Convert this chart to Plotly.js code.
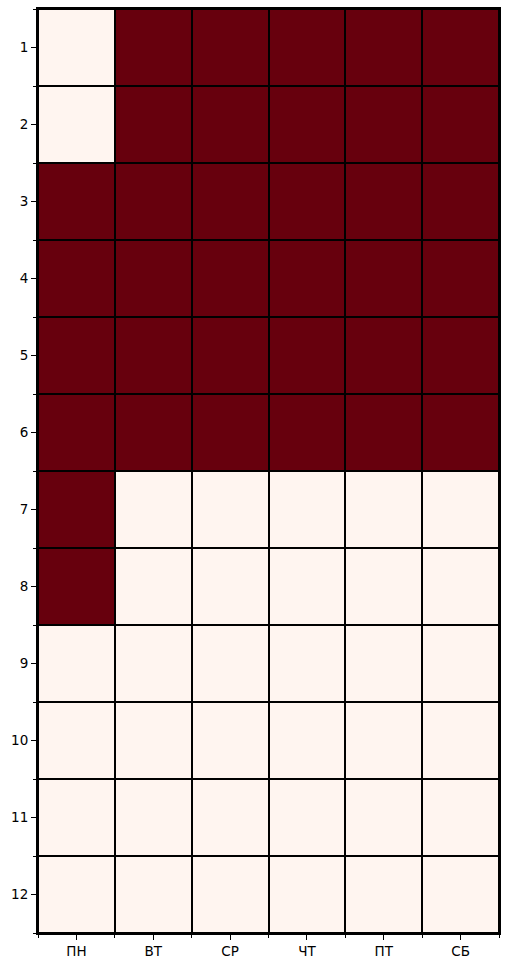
<!DOCTYPE html>
<html><head><meta charset="utf-8">
<script src="https://cdn.plot.ly/plotly-3.0.1.min.js"></script>
<style>html,body{margin:0;padding:0;background:#fff;}#c{width:509px;height:967px;}</style>
</head><body><div id="c"></div>
<script>
const days = ['ПН','ВТ','СР','ЧТ','ПТ','СБ'];
const rows = ['1','2','3','4','5','6','7','8','9','10','11','12'];
const values = [
  [0,1,1,1,1,1],
  [0,1,1,1,1,1],
  [1,1,1,1,1,1],
  [1,1,1,1,1,1],
  [1,1,1,1,1,1],
  [1,1,1,1,1,1],
  [1,0,0,0,0,0],
  [1,0,0,0,0,0],
  [0,0,0,0,0,0],
  [0,0,0,0,0,0],
  [0,0,0,0,0,0],
  [0,0,0,0,0,0]
];
const xIdx = days.map((d,i)=>i);
const yIdx = rows.map((r,i)=>i);
const trace = {
  type:'heatmap', z: values, x: xIdx, y: yIdx,
  colorscale: [[0,'#fff5f0'],[1,'#67000d']], zmin:0, zmax:1,
  showscale:false, xgap:2, ygap:2, hoverinfo:'skip'
};
const font = {family:'DejaVu Sans', size:13.5, color:'#000'};
const layout = {
  width:509, height:967,
  margin:{l:38, r:10, t:9, b:34, pad:0},
  paper_bgcolor:'#fff', plot_bgcolor:'#000',
  font: font,
  xaxis:{range:[-0.5,5.5], tickvals:xIdx, ticktext:days, ticks:'outside', ticklen:5, tickwidth:1, tickcolor:'#000',
    showgrid:false, zeroline:false, showline:true, linecolor:'#000', linewidth:2, mirror:true,
    minor:{tick0:0.5, dtick:1, ticks:'outside', ticklen:3, tickwidth:1, tickcolor:'#000', showgrid:false}, tickfont:font},
  yaxis:{range:[11.5,-0.5], tickvals:yIdx, ticktext:rows, ticks:'outside', ticklen:5, tickwidth:1, tickcolor:'#000',
    showgrid:false, zeroline:false, showline:true, linecolor:'#000', linewidth:2, mirror:true,
    minor:{tick0:0.5, dtick:1, ticks:'outside', ticklen:3, tickwidth:1, tickcolor:'#000', showgrid:false}, tickfont:font}
};
Plotly.newPlot('c',[trace],layout,{staticPlot:true});
</script></body></html>
